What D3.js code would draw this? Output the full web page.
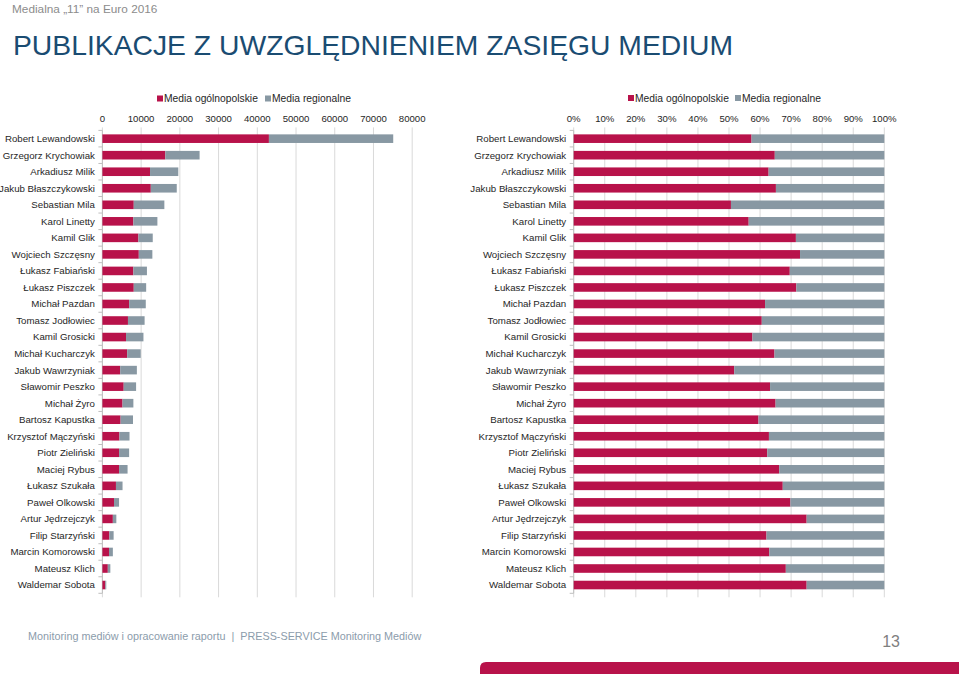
<!DOCTYPE html>
<html>
<head>
<meta charset="utf-8">
<script src="https://cdn.jsdelivr.net/npm/d3@7"></script>
<style>
  html, body { margin: 0; padding: 0; background: #fff; }
  svg { display: block; font-family: "Liberation Sans", Arial, sans-serif; }
</style>
</head>
<body>
<svg id="chart" width="959" height="674"></svg>
<script>
const players = [
  "Robert Lewandowski", "Grzegorz Krychowiak", "Arkadiusz Milik", "Jakub Błaszczykowski",
  "Sebastian Mila", "Karol Linetty", "Kamil Glik", "Wojciech Szczęsny",
  "Łukasz Fabiański", "Łukasz Piszczek", "Michał Pazdan", "Tomasz Jodłowiec",
  "Kamil Grosicki", "Michał Kucharczyk", "Jakub Wawrzyniak", "Sławomir Peszko",
  "Michał Żyro", "Bartosz Kapustka", "Krzysztof Mączyński", "Piotr Zieliński",
  "Maciej Rybus", "Łukasz Szukała", "Paweł Olkowski", "Artur Jędrzejczyk",
  "Filip Starzyński", "Marcin Komorowski", "Mateusz Klich", "Waldemar Sobota"
];
const mediaOgolnopolskie = [
  43000, 16250, 12300, 12500, 8100, 8000, 9300, 9400,
  8000, 8100, 6900, 6600, 6100, 6400, 4600, 5500,
  5200, 4700, 4400, 4300, 4300, 3500, 3000, 2700,
  1800, 1700, 1400, 750
];
const mediaRegionalne = [
  32100, 8850, 7300, 6700, 7900, 6200, 3700, 3500,
  3500, 3200, 4300, 4300, 4500, 3500, 4300, 3200,
  2800, 3200, 2600, 2600, 2200, 1700, 1300, 900,
  1100, 1000, 650, 250
];
const seriesNames = ["Media ogólnopolskie", "Media regionalne"];
const countTicks = [0, 10000, 20000, 30000, 40000, 50000, 60000, 70000, 80000];
const percentTicks = [0, 0.1, 0.2, 0.3, 0.4, 0.5, 0.6, 0.7, 0.8, 0.9, 1];

const RED = "#b8124a", GRAY = "#8898a3", GRID = "#d9d9d9", AXIS = "#bfbfbf", TXT = "#262626";
const colors = [RED, GRAY];
const keys = ["og", "reg"];
const rows = players.map((p, i) => ({ name: p, og: mediaOgolnopolskie[i], reg: mediaRegionalne[i] }));

const svg = d3.select("#chart");

// Header
svg.append("text").attr("x", 12).attr("y", 13).attr("font-size", 11.8).attr("fill", "#8c8c8c")
  .text("Medialna „11” na Euro 2016");
svg.append("text").attr("x", 13).attr("y", 55).attr("font-size", 28.3).attr("fill", "#1a4c72")
  .text("PUBLIKACJE Z UWZGLĘDNIENIEM ZASIĘGU MEDIUM");

const plotTop = 130.4, plotBottom = 593.3;
const y = d3.scaleBand().domain(players).range([plotTop, plotBottom]).paddingInner(0.48).paddingOuter(0.24);

function drawChart(opts) {
  const g = svg.append("g");
  const x = opts.x;
  const stacked = d3.stack().keys(keys);
  if (opts.expand) stacked.offset(d3.stackOffsetExpand);
  const series = stacked(rows);

  // gridlines
  g.selectAll("line.grid").data(opts.ticks).join("line")
    .attr("x1", d => x(d)).attr("x2", d => x(d))
    .attr("y1", plotTop - 3).attr("y2", plotBottom + 4)
    .attr("stroke", GRID).attr("stroke-width", 1);

  // top axis labels
  g.selectAll("text.tick").data(opts.ticks).join("text")
    .attr("x", d => x(d)).attr("y", 122)
    .attr("text-anchor", "middle").attr("font-size", 9.6).attr("fill", TXT)
    .text(opts.fmt);

  // y axis line + ticks
  const x0 = x.range()[0];
  g.append("line").attr("x1", x0).attr("x2", x0).attr("y1", plotTop).attr("y2", plotBottom)
    .attr("stroke", AXIS);
  const bounds = players.map(p => y(p) - y.step() * y.paddingInner() / 2);
  bounds.push(plotBottom);
  g.selectAll("line.yt").data(bounds).join("line")
    .attr("x1", x0 - 4).attr("x2", x0).attr("y1", d => d).attr("y2", d => d)
    .attr("stroke", AXIS);

  // bars
  series.forEach((s, si) => {
    g.selectAll(null).data(s).join("rect")
      .attr("x", d => x(d[0]))
      .attr("width", d => Math.max(0, x(d[1]) - x(d[0])))
      .attr("y", d => y(d.data.name))
      .attr("height", y.bandwidth())
      .attr("fill", colors[si]);
  });

  // category labels
  g.selectAll("text.cat").data(players).join("text")
    .attr("x", x0 - 7.5).attr("y", d => y(d) + y.bandwidth() / 2)
    .attr("dy", "0.35em").attr("text-anchor", "end")
    .attr("font-size", 9.7).attr("fill", TXT).text(d => d);

  // legend
  const lg = g.append("g");
  opts.legend.forEach((lx, i) => {
    lg.append("rect").attr("x", lx).attr("y", opts.legendY - 3).attr("width", 6).attr("height", 6)
      .attr("fill", colors[i]);
    lg.append("text").attr("x", lx + 7).attr("y", opts.legendY).attr("dy", "0.35em")
      .attr("font-size", 10.3).attr("fill", TXT).text(seriesNames[i]);
  });
}

drawChart({
  x: d3.scaleLinear().domain([0, 80000]).range([102.4, 412.2]),
  ticks: countTicks,
  fmt: d => String(d),
  expand: false,
  legend: [157, 265],
  legendY: 98.5
});

drawChart({
  x: d3.scaleLinear().domain([0, 1]).range([573.7, 884.3]),
  ticks: percentTicks,
  fmt: d => Math.round(d * 100) + "%",
  expand: true,
  legend: [628, 735],
  legendY: 98
});

// Footer
svg.append("text").attr("x", 28).attr("y", 640).attr("font-size", 10.8).attr("fill", "#8b9cab")
  .attr("xml:space", "preserve")
  .text("Monitoring mediów i opracowanie raportu  |  PRESS-SERVICE Monitoring Mediów");
svg.append("text").attr("x", 900).attr("y", 647).attr("text-anchor", "end").attr("font-size", 16)
  .attr("fill", "#7f7f7f").text("13");
svg.append("path")
  .attr("d", "M480,674 L480,668 Q480,662 486,662 L959,662 L959,674 Z")
  .attr("fill", RED);
</script>
</body>
</html>
